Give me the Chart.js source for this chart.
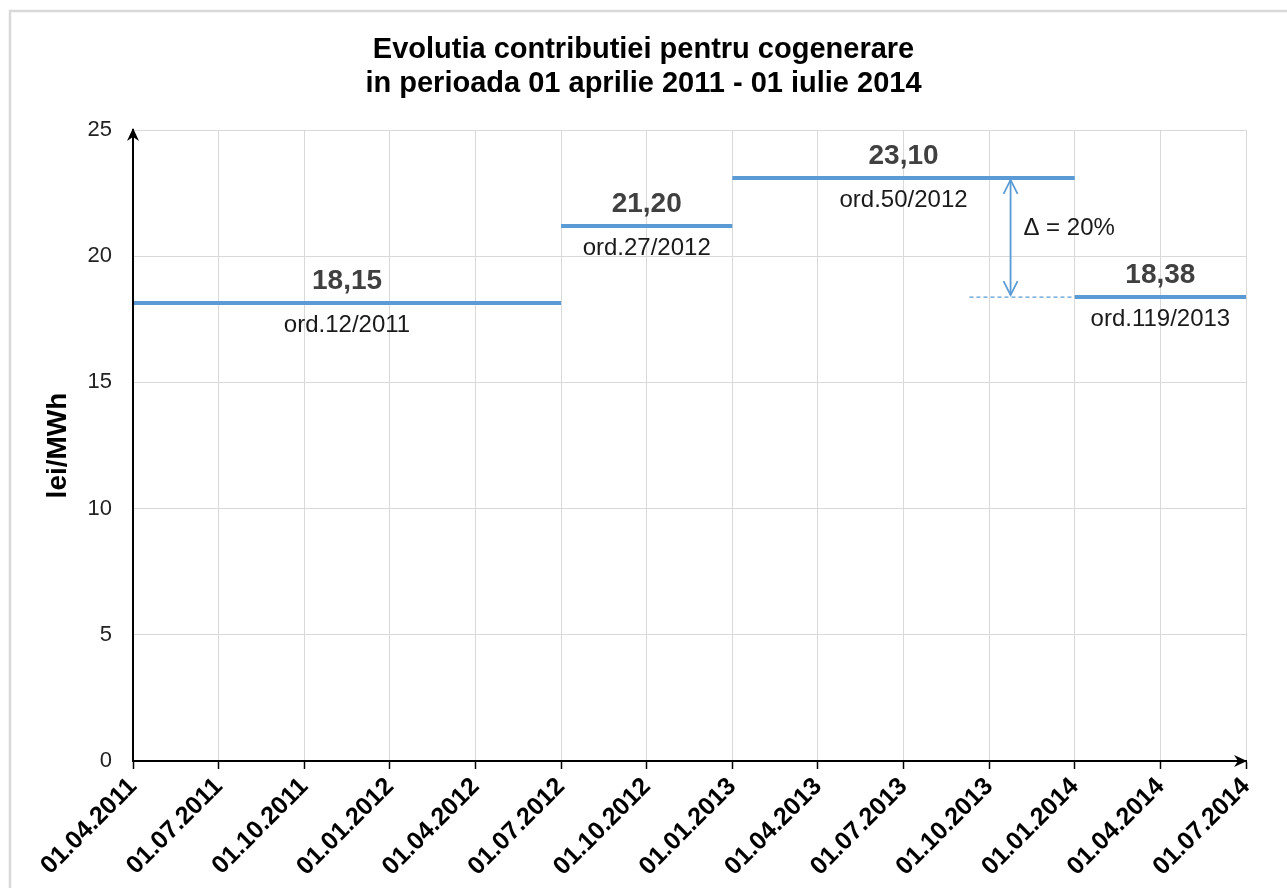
<!DOCTYPE html>
<html>
<head>
<meta charset="utf-8">
<script src="https://cdn.jsdelivr.net/npm/chart.js@4.4.1/dist/chart.umd.min.js"></script>
<style>
  html, body { margin: 0; padding: 0; background: #ffffff; }
  #wrap { position: relative; width: 1287px; height: 888px; }
  canvas { display: block; }
</style>
</head>
<body>
<div id="wrap"><canvas id="c" width="1287" height="888"></canvas></div>
<script>
// ---- data ----
const dateLabels = ['01.04.2011','01.07.2011','01.10.2011','01.01.2012','01.04.2012','01.07.2012','01.10.2012','01.01.2013','01.04.2013','01.07.2013','01.10.2013','01.01.2014','01.04.2014','01.07.2014'];
const segStart = [0, 5, 7, 11];          // index into dateLabels
const segEnd   = [5, 7, 11, 13];
const segValues = [18.15, 21.20, 23.10, 18.38];
const valueLabels = ['18,15', '21,20', '23,10', '18,38'];
const orderLabels = ['ord.12/2011', 'ord.27/2012', 'ord.50/2012', 'ord.119/2013'];
const refLineX = [9.77, 11];             // dashed reference at the new value
const refLineValue = 18.38;
const arrowX = 10.25;
const arrowFrom = 23.10;
const arrowTo = 18.38;
const deltaText = 'Δ = 20%';
const deltaPos = { x: 10.4, y: 21.1 };
const yTitle = 'lei/MWh';
const titleLines = ['Evolutia contributiei pentru cogenerare', 'in perioada 01 aprilie 2011 - 01 iulie 2014'];

const BLUE = '#5b9bd5';
const FONT = "'Liberation Sans', Arial, sans-serif";

const datasets = segValues.map((v, i) => ({
  data: [{ x: segStart[i], y: v }, { x: segEnd[i], y: v }],
  borderColor: BLUE, borderWidth: 4, pointRadius: 0, borderCapStyle: 'butt', fill: false
}));
datasets.push({
  data: [{ x: refLineX[0], y: refLineValue }, { x: refLineX[1], y: refLineValue }],
  borderColor: BLUE, borderWidth: 1.2, borderDash: [4, 3], pointRadius: 0, fill: false
});

const annot = {
  id: 'annot',
  afterDatasetsDraw(chart) {
    const ctx = chart.ctx, xs = chart.scales.x, ys = chart.scales.y;
    const ca = chart.chartArea;
    ctx.save();
    // frame border
    ctx.strokeStyle = '#d9d9d9'; ctx.lineWidth = 2.5;
    ctx.beginPath(); ctx.moveTo(10, 888); ctx.lineTo(10, 11); ctx.lineTo(1287, 11); ctx.stroke();
    // title
    ctx.fillStyle = '#000'; ctx.font = 'bold 29px ' + FONT;
    ctx.textAlign = 'center'; ctx.textBaseline = 'middle';
    titleLines.forEach((t, i) => ctx.fillText(t, chart.width / 2, 50 + i * 34));
    // axis arrows
    ctx.strokeStyle = '#000'; ctx.fillStyle = '#000'; ctx.lineWidth = 2;
    ctx.beginPath(); ctx.moveTo(ca.left, ca.bottom); ctx.lineTo(ca.left, ca.top); ctx.stroke();
    ctx.beginPath(); ctx.moveTo(ca.left, ca.top - 2); ctx.lineTo(ca.left - 6, ca.top + 11); ctx.lineTo(ca.left, ca.top + 7); ctx.lineTo(ca.left + 6, ca.top + 11); ctx.closePath(); ctx.fill();
    ctx.beginPath(); ctx.moveTo(ca.left, ca.bottom); ctx.lineTo(ca.right, ca.bottom); ctx.stroke();
    ctx.beginPath(); ctx.moveTo(ca.right + 1, ca.bottom); ctx.lineTo(ca.right - 12, ca.bottom - 6); ctx.lineTo(ca.right - 8, ca.bottom); ctx.lineTo(ca.right - 12, ca.bottom + 6); ctx.closePath(); ctx.fill();
    // value + order labels
    segValues.forEach((v, i) => {
      const cx = (xs.getPixelForValue(segStart[i]) + xs.getPixelForValue(segEnd[i])) / 2;
      const py = ys.getPixelForValue(v);
      ctx.fillStyle = '#404040'; ctx.font = 'bold 28px ' + FONT;
      ctx.fillText(valueLabels[i], cx, py - 22);
      ctx.fillStyle = '#1a1a1a'; ctx.font = '24px ' + FONT;
      ctx.fillText(orderLabels[i], cx, py + 22);
    });
    // double arrow
    const ax = xs.getPixelForValue(arrowX);
    const y1 = ys.getPixelForValue(arrowFrom) + 2, y2 = ys.getPixelForValue(arrowTo) - 2;
    ctx.strokeStyle = BLUE; ctx.lineWidth = 1.8;
    ctx.beginPath(); ctx.moveTo(ax, y1); ctx.lineTo(ax, y2); ctx.stroke();
    ctx.beginPath();
    ctx.moveTo(ax - 7, y1 + 14); ctx.lineTo(ax, y1); ctx.lineTo(ax + 7, y1 + 14);
    ctx.moveTo(ax - 7, y2 - 14); ctx.lineTo(ax, y2); ctx.lineTo(ax + 7, y2 - 14);
    ctx.stroke();
    // delta label
    ctx.fillStyle = '#1a1a1a'; ctx.font = '24px ' + FONT; ctx.textAlign = 'left';
    ctx.fillText(deltaText, xs.getPixelForValue(deltaPos.x), ys.getPixelForValue(deltaPos.y));
    ctx.restore();
  }
};

new Chart(document.getElementById('c'), {
  type: 'line',
  data: { datasets },
  plugins: [annot],
  options: {
    responsive: false,
    animation: false,
    layout: { padding: { left: 12, right: 41, top: 130, bottom: 0 } },
    plugins: {
      legend: { display: false },
      tooltip: { enabled: false },
      title: { display: false }
    },
    scales: {
      x: {
        type: 'linear', min: 0, max: dateLabels.length - 1,
        afterFit: s => { s.height = 127; },
        afterBuildTicks: s => { s.ticks = dateLabels.map((_, i) => ({ value: i })); },
        ticks: {
          stepSize: 1, autoSkip: false, maxRotation: 45, minRotation: 45, padding: 3,
          color: '#000', font: { family: FONT, size: 25, weight: 'bold' },
          callback: v => dateLabels[v]
        },
        grid: { color: '#d9d9d9', lineWidth: 1, tickColor: '#000', tickLength: 8, tickWidth: 1.5 },
        border: { color: '#000', width: 2 }
      },
      y: {
        min: 0, max: 25,
        afterFit: s => { s.width = 121; },
        ticks: { stepSize: 5, color: '#222', padding: 21, font: { family: FONT, size: 22 } },
        grid: { color: '#d9d9d9', lineWidth: 1, drawTicks: false },
        border: { color: '#000', width: 2 },
        title: {
          display: true, text: yTitle, color: '#000',
          font: { family: FONT, size: 28, weight: 'bold' },
          padding: { top: 29, bottom: 0 }
        }
      }
    }
  }
});
</script>
</body>
</html>
